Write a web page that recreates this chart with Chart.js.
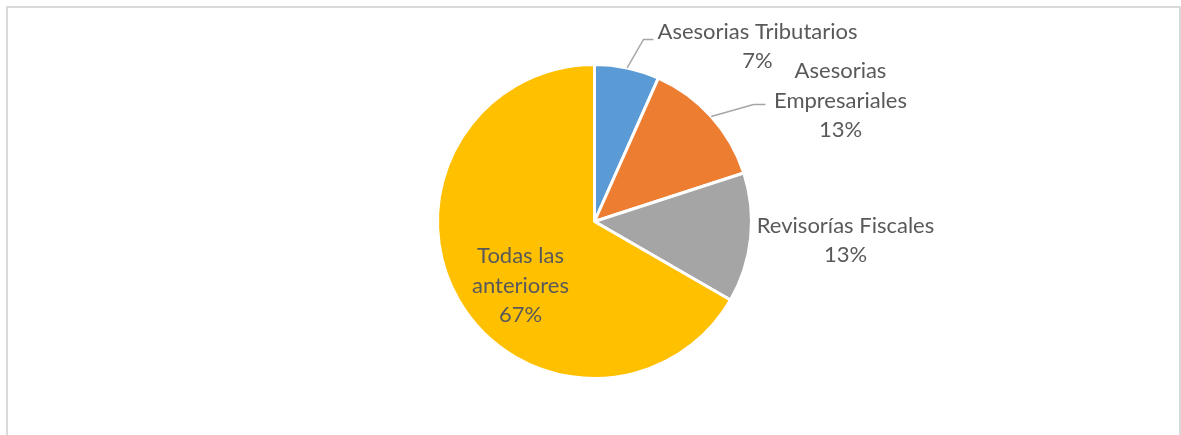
<!DOCTYPE html>
<html>
<head>
<meta charset="utf-8">
<script src="https://cdn.jsdelivr.net/npm/chart.js@4/dist/chart.umd.min.js"></script>
<style>
  html, body { margin: 0; padding: 0; background: #fff; }
  #wrap { position: relative; width: 1181px; height: 435px; }
</style>
</head>
<body>
<div id="wrap"><canvas id="pieChart" width="1181" height="435"></canvas></div>
<script>
// data
const categories = ['Asesorias Tributarios', 'Asesorias Empresariales', 'Revisorías Fiscales', 'Todas las anteriores'];
const values = [1, 2, 2, 10];
const colors = ['#5B9BD5', '#ED7D31', '#A5A5A5', '#FFC000'];

// how each label is wrapped and where it sits relative to the pie centre
const labelLines = [
  ['Asesorias Tributarios'],
  ['Asesorias', 'Empresariales'],
  ['Revisorías Fiscales'],
  ['Todas las', 'anteriores']
];
const labelOffsets = [[163, -175], [246, -121], [251, 19], [-74, 64]];
// leader lines: elbow and end, relative to the pie centre (null = none)
const leaders = [
  [[49, -182], [59, -182]],
  [[159, -117], [171, -117]],
  null,
  null
];

const total = values.reduce((a, b) => a + b, 0);

const frameAndLabels = {
  id: 'frameAndLabels',
  beforeDraw(chart) {
    const ctx = chart.ctx;
    ctx.save();
    ctx.fillStyle = '#fff';
    ctx.fillRect(0, 0, chart.width, chart.height);
    ctx.strokeStyle = '#D9D9D9';
    ctx.lineWidth = 2;
    ctx.strokeRect(7, 7, 1173, 500);
    ctx.restore();
  },
  afterDraw(chart) {
    const ctx = chart.ctx;
    const arcs = chart.getDatasetMeta(0).data;
    ctx.save();
    ctx.font = '22px Lato, "Open Sans", sans-serif';
    ctx.fillStyle = '#595959';
    ctx.textAlign = 'center';
    ctx.textBaseline = 'middle';
    const lh = 29.5;
    arcs.forEach((arc, i) => {
      const cx = arc.x, cy = arc.y;
      const pct = Math.round(values[i] / total * 100) + '%';
      const lines = labelLines[i].concat([pct]);
      const x = cx + labelOffsets[i][0];
      const y0 = cy + labelOffsets[i][1] - (lines.length - 1) * lh / 2;
      lines.forEach((t, k) => ctx.fillText(t, x, y0 + k * lh));
      if (leaders[i]) {
        const mid = (arc.startAngle + arc.endAngle) / 2;
        const r = arc.outerRadius;
        ctx.beginPath();
        ctx.strokeStyle = '#A6A6A6';
        ctx.lineWidth = 1.5;
        ctx.moveTo(cx + Math.cos(mid) * r, cy + Math.sin(mid) * r);
        ctx.lineTo(cx + leaders[i][0][0], cy + leaders[i][0][1]);
        ctx.lineTo(cx + leaders[i][1][0], cy + leaders[i][1][1]);
        ctx.stroke();
      }
    });
    ctx.restore();
  }
};

new Chart(document.getElementById('pieChart').getContext('2d'), {
  type: 'pie',
  data: {
    labels: categories,
    datasets: [{
      data: values,
      backgroundColor: colors,
      borderColor: '#fff',
      borderWidth: 3
    }]
  },
  options: {
    responsive: false,
    animation: false,
    layout: { padding: { left: 436, right: 428, top: 63, bottom: 55 } },
    plugins: {
      legend: { display: false },
      tooltip: { enabled: false }
    }
  },
  plugins: [frameAndLabels]
});
</script>
</body>
</html>
